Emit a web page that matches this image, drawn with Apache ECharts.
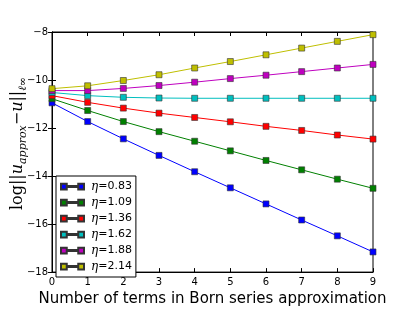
<!DOCTYPE html>
<html><head><meta charset="utf-8">
<script src="https://cdn.jsdelivr.net/npm/echarts@6/dist/echarts.min.js"></script>
<style>html,body{margin:0;padding:0;background:#fff}#c{width:415px;height:312px}</style>
</head><body><div id="c"></div>
<script>
const terms = [0,1,2,3,4,5,6,7,8,9];
const etaLabels = ['0.83','1.09','1.36','1.62','1.88','2.14'];
const colors = ['#0000ff','#008000','#ff0000','#00bfbf','#bf00bf','#bfbf00'];
const eta083 = [-10.95,-11.73,-12.45,-13.14,-13.82,-14.49,-15.16,-15.83,-16.49,-17.16];
const eta109 = [-10.78,-11.27,-11.73,-12.15,-12.55,-12.95,-13.35,-13.74,-14.13,-14.51];
const eta136 = [-10.65,-10.93,-11.17,-11.38,-11.56,-11.74,-11.93,-12.10,-12.29,-12.46];
const eta162 = [-10.52,-10.65,-10.72,-10.75,-10.76,-10.76,-10.76,-10.76,-10.76,-10.76];
const eta188 = [-10.44,-10.44,-10.35,-10.23,-10.09,-9.94,-9.80,-9.65,-9.50,-9.35];
const eta214 = [-10.36,-10.24,-10.02,-9.78,-9.50,-9.23,-8.95,-8.67,-8.39,-8.11];
const allSeries = [eta083,eta109,eta136,eta162,eta188,eta214];

const chart = echarts.init(document.getElementById('c'));
const fmtMinus = v => String(v).replace('-', '\u2212');
const tickCommon = {show:true, inside:true, length:4, lineStyle:{color:'#000', width:1}};
const iconPath = 'path://M0,0H6V6H0Z M6,2.6H18V3.4H6Z M18,0H24V6H18Z';
chart.setOption({
  animation:false,
  grid:{left:52, right:42, top:32, bottom:31, show:true, borderColor:'#000', borderWidth:1, backgroundColor:'transparent'},
  xAxis:[
    {type:'value', min:0, max:9, interval:1, position:'bottom',
     axisLine:{show:true, lineStyle:{color:'#000'}}, axisTick:tickCommon, splitLine:{show:false},
     axisLabel:{color:'#000', fontFamily:'DejaVu Sans', fontSize:10, margin:5},
     name:'Number of terms in Born series approximation', nameLocation:'middle', nameGap:17,
     nameTextStyle:{color:'#000', fontFamily:'DejaVu Sans', fontSize:15}},
    {type:'value', min:0, max:9, interval:1, position:'top',
     axisLine:{show:true, lineStyle:{color:'#000'}}, axisTick:tickCommon, splitLine:{show:false},
     axisLabel:{show:false}}
  ],
  yAxis:[
    {type:'value', min:-18, max:-8, interval:2, position:'left',
     axisLine:{show:true, lineStyle:{color:'#000'}}, axisTick:tickCommon, splitLine:{show:false},
     axisLabel:{color:'#000', fontFamily:'DejaVu Sans', fontSize:10, margin:4, formatter:fmtMinus}},
    {type:'value', min:-18, max:-8, interval:2, position:'right',
     axisLine:{show:true, lineStyle:{color:'#000'}}, axisTick:tickCommon, splitLine:{show:false},
     axisLabel:{show:false}}
  ],
  legend:{
    orient:'vertical', left:56, top:176,
    backgroundColor:'#fff', borderColor:'#000', borderWidth:1, borderRadius:0,
    padding:[4,4,4,4], itemGap:3, itemWidth:23, itemHeight:6,
    icon:iconPath,
    textStyle:{color:'#000', fontFamily:'DejaVu Sans', fontSize:11, lineHeight:13, padding:[0,0,0,2],
      rich:{e:{fontFamily:'DejaVu Serif', fontStyle:'italic', fontSize:12, lineHeight:13}}},
    formatter: n => '{e|η}=' + n.split('=')[1],
    data: etaLabels.map(l => 'η=' + l)
  },
  graphic:[{
    type:'text', left:10, top:77, rotation:Math.PI/2, z:10,
    style:{
      x:0, y:0,
      text:'{m|log||}{i|u}{s|approx}{m|−}{i|u}{m|||}{s|ℓ∞}',
      rich:{
        m:{fontFamily:'DejaVu Serif', fontSize:16, lineHeight:22, verticalAlign:'middle', fill:'#000'},
        i:{fontFamily:'DejaVu Serif', fontStyle:'italic', fontSize:16, lineHeight:22, verticalAlign:'middle', fill:'#000'},
        s:{fontFamily:'DejaVu Serif', fontStyle:'italic', fontSize:11, lineHeight:12, verticalAlign:'bottom', fill:'#000'}
      }
    }
  }],
  series: allSeries.map((vals,i) => ({
    name:'η=' + etaLabels[i], type:'line',
    data: terms.map((t,j) => [t, vals[j]]),
    symbol:'rect', symbolSize:6, showSymbol:true,
    lineStyle:{color:colors[i], width:1},
    itemStyle:{color:colors[i], borderColor:'#333', borderWidth:0.6},
    emphasis:{disabled:true}
  }))
});
</script></body></html>
